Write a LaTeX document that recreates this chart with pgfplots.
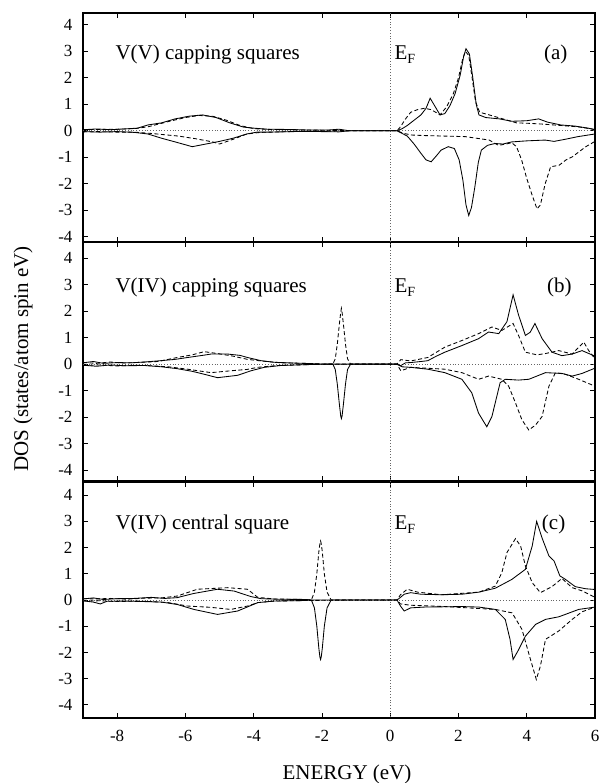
\documentclass[border=0pt]{standalone}
\usepackage{fontspec}
\setmainfont{Liberation Serif}
\usepackage{pgfplots}
\pgfplotsset{compat=1.18}
\pgfplotsset{
  dosax/.style={
    scale only axis, width=512pt,
    xmin=-9, xmax=6,
    xtick={-8,-6,-4,-2,0,2,4,6},
    ytick={-4,-3,-2,-1,0,1,2,3,4},
    tick align=inside, major tick length=5pt,
    axis line style={line width=1.1pt},
    tick style={line width=0.8pt, black},
    ticklabel style={font=\fontsize{17}{17}\selectfont},
    yticklabel style={xshift=-7pt},
    xticklabel style={yshift=-9pt},
    /pgf/number format/assume math mode=true,
    every axis plot/.append style={line width=0.85pt, black},
  },
  sol/.style={solid},
  dsh/.style={dash pattern=on 4pt off 2.5pt},
  zer/.style={line width=0.6pt, dash pattern=on 0.8pt off 2pt, gray!80!black},
}
\newcommand{\lab}{\fontsize{21}{21}\selectfont}
\newcommand{\EF}{E\raisebox{-0.4ex}{\fontsize{14}{14}\selectfont F}}
\begin{document}
\begin{tikzpicture}
\useasboundingbox (0,0) rectangle (607pt,783pt);
% ---------- panel (a)
\begin{axis}[dosax, at={(83pt,541pt)}, anchor=south west, height=229pt,
  ymin=-4.2, ymax=4.45, xticklabels={}]
\addplot[zer] coordinates {(-9,0) (6,0)};
\addplot[zer] coordinates {(0,-5) (0,5)};
\addplot[sol] coordinates {(-9,0.04)(-8.6,0.07)(-8.2,0.04)(-7.8,0.07)(-7.4,0.1)(-7.1,0.22)(-6.7,0.3)(-6.3,0.45)(-5.9,0.55)(-5.5,0.6)(-5.1,0.5)(-4.7,0.3)(-4.3,0.14)(-4.0,0.1)(-3.6,0.06)(-3.0,0.05)(-2.4,0.03)(-1.8,0.03)(-1.5,0.06)(-1.3,0.02)(-1.2,0)(0.2,0)(0.35,0.08)(0.5,0.2)(0.7,0.4)(0.9,0.6)(1.05,0.85)(1.17,1.23)(1.3,0.95)(1.46,0.6)(1.6,0.65)(1.75,0.95)(1.9,1.4)(2.05,2.1)(2.15,2.8)(2.22,3.1)(2.32,2.9)(2.42,2.0)(2.52,1.0)(2.6,0.6)(2.8,0.5)(3.2,0.45)(3.56,0.36)(4.0,0.38)(4.35,0.45)(4.6,0.33)(5.0,0.22)(5.4,0.18)(5.8,0.1)(6,0.04)};
\addplot[dsh] coordinates {(-9,0.05)(-8.5,0.05)(-8,0.06)(-7.5,0.08)(-7.1,0.15)(-6.8,0.25)(-6.4,0.38)(-6.0,0.5)(-5.6,0.58)(-5.2,0.55)(-4.8,0.4)(-4.4,0.2)(-4.0,0.08)(-3.5,0.05)(-2.5,0.03)(-1.8,0.02)(-1.2,0)(0.2,0)(0.3,0.15)(0.45,0.45)(0.6,0.7)(0.8,0.8)(1.0,0.85)(1.2,0.8)(1.46,0.6)(1.65,0.9)(1.85,1.4)(2.0,2.0)(2.12,2.7)(2.2,3.0)(2.3,2.85)(2.4,2.0)(2.5,1.1)(2.62,0.7)(2.9,0.6)(3.3,0.45)(3.7,0.3)(4.1,0.28)(4.5,0.25)(5.0,0.2)(5.5,0.15)(6,0.05)};
\addplot[sol] coordinates {(-9,-0.03)(-8.5,-0.05)(-8,-0.03)(-7.5,-0.06)(-7.1,-0.12)(-6.7,-0.28)(-6.3,-0.42)(-5.8,-0.6)(-5.4,-0.5)(-5.0,-0.4)(-4.6,-0.28)(-4.2,-0.12)(-3.9,-0.05)(-3.5,-0.05)(-2.5,-0.02)(-1.5,-0.04)(-1.2,0)(0.2,0)(0.35,-0.1)(0.5,-0.2)(0.7,-0.5)(0.9,-0.85)(1.05,-1.1)(1.2,-1.17)(1.35,-0.95)(1.49,-0.73)(1.7,-0.6)(1.88,-0.67)(2.02,-1.1)(2.13,-1.87)(2.22,-2.8)(2.3,-3.2)(2.38,-2.9)(2.48,-2.12)(2.58,-1.2)(2.67,-0.73)(2.85,-0.55)(3.07,-0.48)(3.3,-0.5)(3.56,-0.42)(4.0,-0.38)(4.54,-0.35)(4.8,-0.4)(5.13,-0.32)(5.5,-0.22)(6,-0.12)};
\addplot[dsh] coordinates {(-9,-0.04)(-8.5,-0.03)(-8,-0.05)(-7.5,-0.05)(-7.0,-0.1)(-6.6,-0.15)(-6.2,-0.2)(-5.7,-0.3)(-5.2,-0.42)(-5.0,-0.5)(-4.6,-0.32)(-4.2,-0.12)(-3.8,-0.06)(-3,-0.03)(-2,-0.02)(-1.2,0)(0.2,0)(0.4,-0.1)(0.63,-0.16)(1.0,-0.18)(1.6,-0.2)(2.2,-0.22)(2.58,-0.29)(2.9,-0.35)(3.17,-0.55)(3.4,-0.5)(3.56,-0.45)(3.7,-0.6)(3.85,-1.1)(4.0,-1.8)(4.15,-2.4)(4.3,-2.95)(4.4,-2.8)(4.54,-2.0)(4.7,-1.36)(4.95,-1.3)(5.15,-1.1)(5.34,-0.98)(5.73,-0.6)(6,-0.4)};
\node[anchor=base west, font=\lab] at (axis cs:-8.15,2.7) {V(V) capping squares};
\node[anchor=base west, font=\lab, inner sep=0pt] at (axis cs:0.12,2.7) {\EF};
\node[anchor=base west, font=\lab, inner sep=0pt] at (axis cs:4.5,2.7) {(a)};
\end{axis}
% ---------- panel (b)
\begin{axis}[dosax, at={(83pt,302pt)}, anchor=south west, height=239pt,
  ymin=-4.4, ymax=4.6, xticklabels={}]
\addplot[zer] coordinates {(-9,0) (6,0)};
\addplot[zer] coordinates {(0,-5) (0,5)};
\addplot[sol] coordinates {(-9,0.05)(-8.7,0.1)(-8.4,0.03)(-8,0.06)(-7.6,0.05)(-7.2,0.08)(-6.73,0.13)(-6.3,0.18)(-5.94,0.25)(-5.5,0.33)(-5.25,0.38)(-4.76,0.38)(-4.4,0.33)(-4.18,0.25)(-3.78,0.13)(-3.4,0.07)(-2.8,0.04)(-2.3,0.02)(-1.9,0)(0.2,0)(0.3,-0.06)(0.45,0.05)(0.6,0.06)(0.9,0.1)(1.1,0.13)(1.35,0.3)(1.6,0.45)(2.1,0.7)(2.59,0.96)(2.88,1.21)(3.18,1.15)(3.42,1.6)(3.6,2.61)(3.76,1.85)(3.96,1.08)(4.1,1.2)(4.24,1.53)(4.45,0.96)(4.74,0.45)(5.03,0.32)(5.33,0.38)(5.62,0.51)(5.82,0.4)(6,0.3)};
\addplot[dsh] coordinates {(-9,0.06)(-8.6,0.03)(-8.2,0.08)(-7.8,0.04)(-7.3,0.07)(-6.8,0.1)(-6.24,0.25)(-5.8,0.35)(-5.45,0.47)(-5.06,0.4)(-4.6,0.3)(-4.18,0.18)(-3.78,0.12)(-3.2,0.05)(-2.5,0.03)(-1.9,0)(-1.68,0)(-1.61,0.2)(-1.55,0.75)(-1.49,1.5)(-1.45,1.95)(-1.43,2.1)(-1.41,1.95)(-1.37,1.5)(-1.31,0.75)(-1.25,0.2)(-1.16,0)(0.2,0)(0.31,0.17)(0.6,0.12)(1.1,0.25)(1.6,0.64)(2.1,0.89)(2.59,1.15)(2.98,1.4)(3.27,1.27)(3.6,1.53)(3.76,1.08)(3.96,0.45)(4.3,0.35)(4.55,0.4)(4.94,0.51)(5.33,0.38)(5.67,0.83)(5.82,0.5)(6,0.2)};
\addplot[sol] coordinates {(-9,-0.04)(-8.6,-0.08)(-8.2,-0.03)(-7.8,-0.06)(-7.2,-0.05)(-6.7,-0.1)(-6.24,-0.17)(-5.8,-0.27)(-5.45,-0.38)(-5.06,-0.51)(-4.47,-0.42)(-4.08,-0.25)(-3.69,-0.12)(-3.2,-0.05)(-2.5,-0.02)(-1.9,0)(-1.68,0)(-1.61,-0.2)(-1.55,-0.75)(-1.49,-1.5)(-1.45,-1.95)(-1.43,-2.05)(-1.41,-1.95)(-1.37,-1.5)(-1.31,-0.75)(-1.25,-0.2)(-1.16,0)(0.2,0)(0.35,-0.1)(0.6,-0.12)(1.1,-0.19)(1.6,-0.32)(2.1,-0.57)(2.39,-1.08)(2.59,-1.85)(2.83,-2.36)(2.98,-1.97)(3.22,-0.7)(3.37,-0.57)(3.76,-0.6)(4.06,-0.57)(4.55,-0.32)(5.03,-0.35)(5.33,-0.45)(5.62,-0.35)(6,-0.15)};
\addplot[dsh] coordinates {(-9,-0.05)(-8.5,-0.03)(-8,-0.07)(-7.5,-0.04)(-7,-0.06)(-6.5,-0.1)(-5.94,-0.19)(-5.25,-0.32)(-4.67,-0.25)(-4.2,-0.2)(-3.88,-0.12)(-3.3,-0.05)(-2.5,-0.02)(-1.9,0)(0.2,0)(0.31,-0.25)(0.6,-0.12)(1.6,-0.19)(2.1,-0.32)(2.59,-0.57)(2.88,-0.45)(3.27,-0.57)(3.47,-0.83)(3.67,-1.46)(3.86,-2.1)(4.06,-2.48)(4.26,-2.29)(4.45,-1.97)(4.65,-0.83)(4.84,-0.32)(5.13,-0.38)(5.52,-0.57)(6,-0.83)};
\node[anchor=base west, font=\lab] at (axis cs:-8.15,2.7) {V(IV) capping squares};
\node[anchor=base west, font=\lab, inner sep=0pt] at (axis cs:0.12,2.7) {\EF};
\node[anchor=base west, font=\lab, inner sep=0pt] at (axis cs:4.59,2.7) {(b)};
\end{axis}
% ---------- panel (c)
\begin{axis}[dosax, at={(83pt,65pt)}, anchor=south west, height=236pt,
  ymin=-4.5, ymax=4.5]
\addplot[zer] coordinates {(-9,0) (6,0)};
\addplot[zer] coordinates {(0,-5) (0,5)};
\addplot[sol] coordinates {(-9,0.04)(-8.7,0.08)(-8.4,0.02)(-8,0.05)(-7.5,0.06)(-7,0.1)(-6.6,0.06)(-6.24,0.09)(-5.75,0.25)(-5.06,0.41)(-4.57,0.34)(-4.08,0.13)(-3.78,0.05)(-3.3,0.03)(-2.5,0.02)(-2.31,0)(-1.2,0)(0.2,0)(0.3,0.1)(0.41,0.22)(0.6,0.28)(0.9,0.22)(1.5,0.2)(2.1,0.22)(2.6,0.3)(3.08,0.45)(3.57,0.79)(3.96,1.17)(4.16,2.06)(4.29,3.0)(4.45,2.36)(4.65,1.68)(4.8,1.49)(4.97,0.92)(5.13,0.79)(5.42,0.51)(5.72,0.43)(6,0.4)};
\addplot[dsh] coordinates {(-9,0.05)(-8.6,0.04)(-8.2,0.06)(-7.7,0.03)(-7.2,0.07)(-6.7,0.08)(-6.24,0.15)(-5.65,0.41)(-4.76,0.47)(-4.18,0.41)(-3.88,0.1)(-3.4,0.04)(-2.5,0.02)(-2.31,0)(-2.22,0.3)(-2.15,1.0)(-2.09,1.85)(-2.06,2.15)(-2.04,2.25)(-2.02,2.15)(-1.99,1.85)(-1.93,1.0)(-1.85,0.3)(-1.73,0)(-1.2,0)(0.2,0)(0.3,0.2)(0.5,0.41)(0.8,0.3)(1.5,0.2)(2.6,0.3)(3.08,0.53)(3.27,1.04)(3.42,1.81)(3.67,2.34)(3.82,2.06)(3.96,1.3)(4.16,0.66)(4.4,0.28)(4.74,0.51)(5.03,0.82)(5.33,0.47)(5.62,0.35)(6,0.1)};
\addplot[sol] coordinates {(-9,-0.03)(-8.7,-0.08)(-8.49,-0.15)(-8.3,-0.05)(-7.8,-0.04)(-7.2,-0.06)(-6.7,-0.08)(-6.24,-0.17)(-5.75,-0.36)(-5.06,-0.55)(-4.47,-0.42)(-3.88,-0.1)(-3.4,-0.04)(-2.5,-0.02)(-2.31,0)(-2.22,-0.3)(-2.15,-1.0)(-2.09,-1.85)(-2.06,-2.17)(-2.04,-2.27)(-2.02,-2.17)(-1.99,-1.85)(-1.93,-1.0)(-1.85,-0.3)(-1.73,0)(-1.2,0)(0.2,0)(0.3,-0.23)(0.41,-0.42)(0.6,-0.3)(1.0,-0.27)(2.1,-0.25)(2.6,-0.27)(3.08,-0.36)(3.37,-0.74)(3.51,-1.5)(3.6,-2.27)(3.76,-1.9)(3.96,-1.38)(4.26,-0.93)(4.55,-0.74)(4.94,-0.64)(5.13,-0.55)(5.52,-0.36)(6,-0.27)};
\addplot[dsh] coordinates {(-9,-0.04)(-8.5,-0.03)(-8,-0.06)(-7.5,-0.04)(-7,-0.06)(-6.5,-0.1)(-5.94,-0.23)(-5.25,-0.28)(-4.67,-0.36)(-4.18,-0.23)(-3.88,-0.1)(-3.4,-0.04)(-2.5,-0.02)(-1.2,0)(0.2,0)(0.3,-0.15)(0.6,-0.2)(1.6,-0.25)(3.08,-0.36)(3.57,-0.49)(3.86,-1.12)(4.11,-2.27)(4.28,-3.03)(4.4,-2.52)(4.55,-1.5)(4.94,-1.18)(5.33,-0.74)(5.62,-0.45)(6,-0.27)};
\node[anchor=base west, font=\lab] at (axis cs:-8.15,2.7) {V(IV) central square};
\node[anchor=base west, font=\lab, inner sep=0pt] at (axis cs:0.12,2.7) {\EF};
\node[anchor=base west, font=\lab, inner sep=0pt] at (axis cs:4.44,2.7) {(c)};
\end{axis}
\node[rotate=90, font=\lab] at (23pt,424pt) {DOS (states/atom spin eV)};
\node[anchor=base, font=\lab] at (347pt,3pt) {ENERGY (eV)};
\end{tikzpicture}
\end{document}
